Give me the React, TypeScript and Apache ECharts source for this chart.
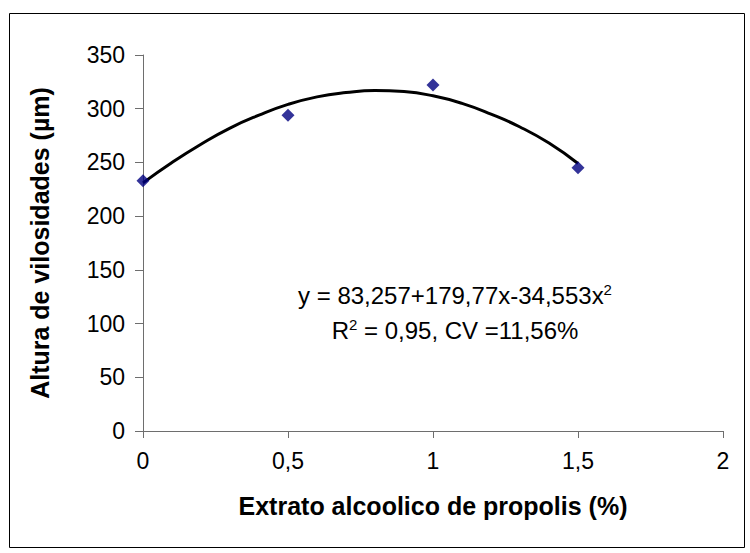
import React, { useEffect, useRef } from "react";
import * as echarts from "echarts";

const pointX = [0, 0.5, 1, 1.5];
const pointY = [233, 294, 322, 245];

const curveX = [0, 0.1, 0.2, 0.3, 0.4, 0.5, 0.6, 0.7, 0.8, 0.9, 1.0, 1.1, 1.2, 1.3, 1.4, 1.5];
const curveY = [231, 250, 267, 282, 294, 304, 311, 315, 317, 316, 312, 305, 295, 283, 268, 249];

const xTicks = [0, 0.5, 1, 1.5, 2];
const yTicks = [0, 50, 100, 150, 200, 250, 300, 350];

const xTitle = "Extrato alcoolico de propolis (%)";
const yTitle = "Altura de vilosidades (µm)";
const eqLine1 = "y = 83,257+179,77x-34,553x";
const eqLine2a = "R";
const eqLine2b = " = 0,95, CV =11,56%";

const FONT = "'Liberation Sans', Arial, sans-serif";

export default function App() {
  const ref = useRef<HTMLDivElement>(null);
  useEffect(() => {
    document.body.style.margin = "0";
    if (!ref.current) return;
    const chart = echarts.init(ref.current, undefined, { renderer: "svg" });
    const fmt = (v: number) => String(v).replace(".", ",");
    chart.setOption({
      animation: false,
      backgroundColor: "#ffffff",
      textStyle: { fontFamily: FONT },
      grid: { left: 143, right: 27, top: 55, bottom: 122, containLabel: false },
      xAxis: {
        type: "value",
        min: xTicks[0],
        max: xTicks[xTicks.length - 1],
        interval: 0.5,
        name: xTitle,
        nameLocation: "middle",
        nameGap: 62,
        nameTextStyle: { fontFamily: FONT, fontSize: 25, fontWeight: "bold", color: "#000" },
        axisLine: { show: true, lineStyle: { color: "#6e6e6e", width: 1 } },
        axisTick: { show: true, inside: false, length: 7, lineStyle: { color: "#6e6e6e" } },
        axisLabel: { fontFamily: FONT, fontSize: 23, color: "#000", margin: 18, formatter: fmt },
        splitLine: { show: false },
      },
      yAxis: {
        type: "value",
        min: yTicks[0],
        max: yTicks[yTicks.length - 1],
        interval: 50,
        name: yTitle,
        nameLocation: "middle",
        nameGap: 91,
        nameRotate: 90,
        nameTextStyle: { fontFamily: FONT, fontSize: 25, fontWeight: "bold", color: "#000" },
        axisLine: { show: true, lineStyle: { color: "#6e6e6e", width: 1 } },
        axisTick: { show: true, inside: false, length: 8, lineStyle: { color: "#6e6e6e" } },
        axisLabel: { fontFamily: FONT, fontSize: 23, color: "#000", margin: 18 },
        splitLine: { show: false },
      },
      graphic: [
        {
          type: "rect",
          shape: { x: 9.5, y: 13.5, width: 735, height: 534 },
          style: { fill: "none", stroke: "#000", lineWidth: 1 },
          silent: true,
          z: -1,
        },
        {
          type: "text",
          x: 455,
          y: 295,
          style: {
            text: eqLine1 + "{sup|2}",
            font: `24px ${FONT}`,
            fill: "#000",
            align: "center",
            verticalAlign: "middle",
            rich: { sup: { fontSize: 15, fontFamily: FONT, fill: "#000", padding: [0, 0, 12, 0] } },
          },
        },
        {
          type: "text",
          x: 455,
          y: 330,
          style: {
            text: eqLine2a + "{sup|2}" + eqLine2b,
            font: `24px ${FONT}`,
            fill: "#000",
            align: "center",
            verticalAlign: "middle",
            rich: { sup: { fontSize: 15, fontFamily: FONT, fill: "#000", padding: [0, 0, 12, 0] } },
          },
        },
      ],
      series: [
        {
          type: "line",
          data: curveX.map((x, i) => [x, curveY[i]]),
          smooth: true,
          showSymbol: false,
          symbol: "none",
          lineStyle: { color: "#000", width: 3 },
          z: 2,
        },
        {
          type: "scatter",
          data: pointX.map((x, i) => [x, pointY[i]]),
          symbol: "diamond",
          symbolSize: 13,
          itemStyle: { color: "#000080" },
          z: 3,
        },
      ],
    });
    return () => chart.dispose();
  }, []);
  return <div ref={ref} style={{ width: 750, height: 553 }} />;
}
